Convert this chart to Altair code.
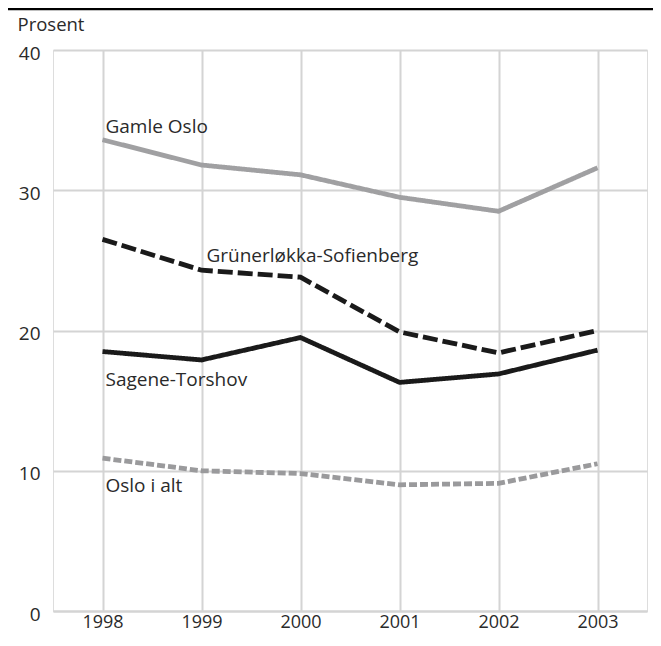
import altair as alt
import pandas as pd

years = [1998, 1999, 2000, 2001, 2002, 2003]
gamle_oslo = [33.6, 31.8, 31.1, 29.5, 28.5, 31.6]
grunerlokka = [26.5, 24.3, 23.8, 19.9, 18.4, 20.0]
sagene = [18.5, 17.9, 19.5, 16.3, 16.9, 18.6]
oslo_alt = [10.9, 10.0, 9.8, 9.0, 9.1, 10.5]

series_names = ["Gamle Oslo", "Grünerløkka-Sofienberg", "Sagene-Torshov", "Oslo i alt"]
series_values = [gamle_oslo, grunerlokka, sagene, oslo_alt]
series_colors = ["#a0a0a2", "#1a1a1a", "#1a1a1a", "#9a9a9c"]
series_dashes = [[1, 0], [15, 5], [1, 0], [8, 3]]

label_text = ["Gamle Oslo", "Grünerløkka-Sofienberg", "Sagene-Torshov", "Oslo i alt"]
label_x = [1998.03, 1999.05, 1998.03, 1998.03]
label_y = [34.5, 25.3, 16.5, 8.9]

rows = []
for name, vals in zip(series_names, series_values):
    for yr, v in zip(years, vals):
        rows.append({"year": yr, "value": v, "series": name})
df = pd.DataFrame(rows)
labels = pd.DataFrame({"text": label_text, "year": label_x, "value": label_y})

FONT = "Open Sans"
TXT = "#2a2a2a"
GRID = "#d4d4d4"

x_scale = alt.Scale(domain=[1997.5, 2003.5], nice=False, zero=False)
y_scale = alt.Scale(domain=[0, 40], nice=False)

lines = alt.Chart(df).mark_line(strokeWidth=4.8, strokeCap="butt", strokeJoin="miter").encode(
    x=alt.X("year:Q", scale=x_scale,
            axis=alt.Axis(values=years, format="d", title=None, grid=True,
                          gridColor=GRID, gridWidth=2, domain=True, domainColor=GRID,
                          domainWidth=2, ticks=False, labelPadding=2,
                          labelFontSize=18, labelFont=FONT, labelColor=TXT)),
    y=alt.Y("value:Q", scale=y_scale,
            axis=alt.Axis(values=[0, 10, 20, 30, 40], title="Prosent", titleAngle=0,
                          titleAlign="left", titleBaseline="middle", titleX=-36, titleY=-26,
                          titleFont=FONT, titleFontSize=18.5, titleFontWeight="normal",
                          titleColor=TXT, grid=True, gridColor=GRID, gridWidth=2,
                          domain=False, ticks=False, labelPadding=13, labelOffset=3,
                          labelFontSize=19, labelFont=FONT, labelColor=TXT)),
    color=alt.Color("series:N", scale=alt.Scale(domain=series_names, range=series_colors), legend=None),
    strokeDash=alt.StrokeDash("series:N", scale=alt.Scale(domain=series_names, range=series_dashes), legend=None),
    detail="series:N",
)

text = alt.Chart(labels).mark_text(align="left", baseline="middle", font=FONT,
                                   fontSize=19, color=TXT).encode(
    x=alt.X("year:Q", scale=x_scale),
    y=alt.Y("value:Q", scale=y_scale),
    text="text:N",
)

top_rule = alt.Chart(pd.DataFrame({"a": [0]})).mark_rule(color="#000000", strokeWidth=2.5).encode(
    x=alt.value(-45), x2=alt.value(600), y=alt.value(-41)
)

chart = alt.layer(lines, text, top_rule).properties(
    width=594, height=561,
    autosize=alt.AutoSizeParams(type="none"),
    padding={"left": 45, "top": 42, "right": 6, "bottom": 27},
).configure_view(stroke=GRID, strokeWidth=2).configure(background="white")

chart.save("out.html", embed_options={"renderer": "svg", "actions": False})
